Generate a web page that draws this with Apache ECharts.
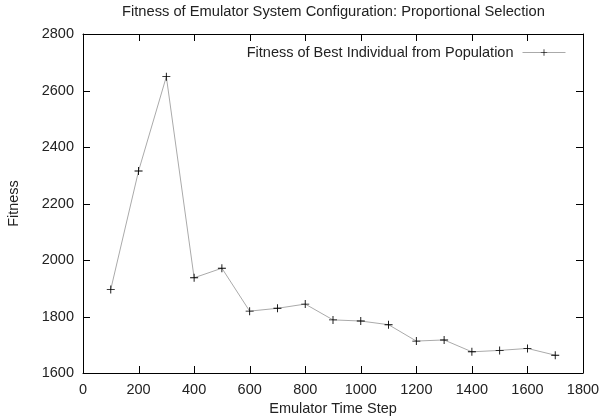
<!DOCTYPE html>
<html><head><meta charset="utf-8">
<script src="https://cdn.jsdelivr.net/npm/echarts@6/dist/echarts.min.js"></script>
<style>html,body{margin:0;padding:0;background:#fff}#c{width:605px;height:417px}</style>
</head><body><div id="c"></div>
<script>
var timeSteps = [100,200,300,400,500,600,700,800,900,1000,1100,1200,1300,1400,1500,1600,1700];
var fitness = [1896,2315,2649,1937,1971,1819,1829,1844,1788,1784,1771,1713,1717,1675,1680,1687,1663];
var xTickValues = [200,400,600,800,1000,1200,1400,1600];
var yTickValues = [1800,2000,2200,2400,2600];
var titleText = 'Fitness of Emulator System Configuration: Proportional Selection';
var seriesName = 'Fitness of Best Individual from Population';
var xName = 'Emulator Time Step';
var yName = 'Fitness';

var FONT = 'Liberation Sans';
var FS = 14.5;
var X_MIN = 0, X_MAX = 1800, Y_MIN = 1600, Y_MAX = 2800;
var plus = 'path://M4.45,0H5.55V4.45H10V5.55H5.55V10H4.45V5.55H0V4.45H4.45Z';
var chart = echarts.init(document.getElementById('c'), null, {renderer:'canvas'});
var axisLine = {show:true, onZero:false, lineStyle:{color:'#000', width:1}};
function lbl(m){ return {show:true, margin:m, color:'#222', fontFamily:FONT, fontSize:FS, formatter:function(v){return String(v);}}; }

// inward tick marks on all four sides (gnuplot style), placed through the chart's scales
var TL = 7;
function renderTicks(params, api){
  var children = [];
  function seg(a, b){
    children.push({type:'line', silent:true,
      shape:{x1:a[0], y1:a[1], x2:b[0], y2:b[1]},
      style:{stroke:'#000', lineWidth:1, fill:null}});
  }
  xTickValues.forEach(function(v){
    var pb = api.coord([v, Y_MIN]), pt = api.coord([v, Y_MAX]);
    var x = Math.round(pb[0]) + 0.5;
    seg([x, pb[1]], [x, pb[1] - TL]);
    seg([x, pt[1]], [x, pt[1] + TL]);
  });
  yTickValues.forEach(function(v){
    var pl = api.coord([X_MIN, v]), pr = api.coord([X_MAX, v]);
    var y = Math.round(pl[1]) + 0.5;
    seg([pl[0], y], [pl[0] + TL, y]);
    seg([pr[0], y], [pr[0] - TL, y]);
  });
  return {type:'group', children:children};
}

chart.setOption({
  animation:false,
  title:{text:titleText, left:122, top:4, padding:0, textStyle:{fontFamily:FONT, fontSize:14.7, fontWeight:'normal', color:'#222'}},
  legend:{show:true, right:34, top:40, align:'right', itemWidth:43, itemHeight:8, itemGap:6,
    textStyle:{fontFamily:FONT, fontSize:FS, color:'#222', padding:[0,4,0,0]},
    lineStyle:{width:1, color:'#aaa'},
    data:[{name:seriesName}]},
  grid:{left:83, right:22, top:34, bottom:44, containLabel:false, outerBoundsMode:'none'},
  xAxis:[{type:'value', min:X_MIN, max:X_MAX, interval:200, axisLine:axisLine, axisTick:{show:false}, splitLine:{show:false},
    axisLabel:lbl(9), name:xName, nameLocation:'middle', nameGap:26,
    nameTextStyle:{fontFamily:FONT, fontSize:FS, color:'#222'}},
    {type:'value', position:'top', min:X_MIN, max:X_MAX, interval:200, axisLine:axisLine, axisTick:{show:false}, axisLabel:{show:false}, splitLine:{show:false}}],
  yAxis:[{type:'value', min:Y_MIN, max:Y_MAX, interval:200, axisLine:axisLine, axisTick:{show:false}, splitLine:{show:false},
    axisLabel:lbl(9), name:yName, nameLocation:'middle', nameGap:62, nameRotate:90,
    nameTextStyle:{fontFamily:FONT, fontSize:FS, color:'#222'}},
    {type:'value', position:'right', min:Y_MIN, max:Y_MAX, interval:200, axisLine:axisLine, axisTick:{show:false}, axisLabel:{show:false}, splitLine:{show:false}}],
  series:[
    {name:'axis ticks', type:'custom', xAxisIndex:0, yAxisIndex:0, data:[[900, 2200]], encode:{x:0, y:1},
     renderItem:renderTicks, clip:false, silent:true, z:10, tooltip:{show:false}},
    {name:seriesName, type:'line', xAxisIndex:0, yAxisIndex:0, data:timeSteps.map(function(t,i){return [t, fitness[i]];}),
    symbol:plus, symbolSize:8, showAllSymbol:true,
    itemStyle:{color:'#000'}, lineStyle:{color:'#aaa', width:1}}]
});
</script></body></html>
